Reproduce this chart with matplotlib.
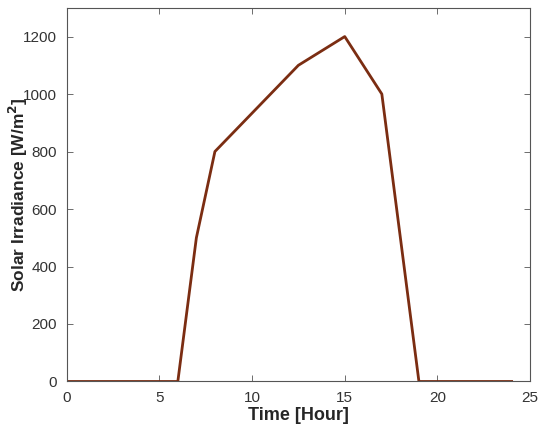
import numpy as np
import matplotlib
matplotlib.use("Agg")
import matplotlib.pyplot as plt

# irradiance profile
heures = [0, 6, 7, 8, 12.5, 15, 17, 19, 24]
irradiance = [0, 0, 500, 800, 1100, 1200, 1000, 0, 0]

xticks = [0, 5, 10, 15, 20, 25]
yticks = [0, 200, 400, 600, 800, 1000, 1200]

plt.rcParams['font.family'] = ['Liberation Sans', 'DejaVu Sans']

fig = plt.figure(figsize=(5.5, 4.34), dpi=100)
ax = fig.add_axes([0.121, 0.121, 0.843, 0.861])

ax.plot(heures, irradiance, color='#7B2D12', linewidth=2.0)

ax.set_xlim(0, 25)
ax.set_ylim(0, 1300)
ax.set_xticks(xticks)
ax.set_yticks(yticks)

gris = '#262626'
for s in ax.spines.values():
    s.set_color('#555555')
    s.set_linewidth(0.8)
ax.tick_params(direction='in', length=4, width=0.6, colors='#555555',
               labelcolor='#333333', labelsize=11, top=True, right=True)
ax.tick_params(axis='x', pad=7)
ax.tick_params(axis='y', pad=7)

ax.set_xlabel('Time [Hour]', fontsize=13, fontweight='bold', color=gris, labelpad=1)
ax.set_ylabel('Solar Irradiance [W/m$^{\\mathbf{2}}$]', fontsize=12.5,
              fontweight='bold', color=gris, va='center')
ax.yaxis.set_label_coords(-0.104, 0.5)

fig.savefig('out.png', dpi=100)
